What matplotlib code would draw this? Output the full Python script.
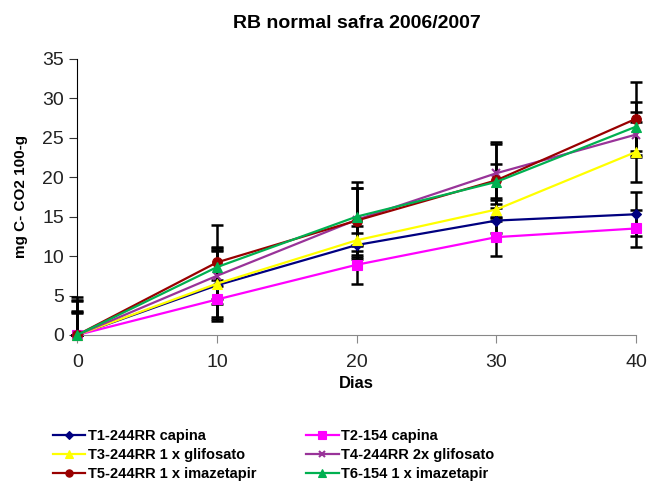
import matplotlib
matplotlib.use("Agg")
import matplotlib.pyplot as plt

plt.rcParams['font.family'] = ['Liberation Sans', 'DejaVu Sans']

# data
dias = [0, 10, 20, 30, 40]
labels = ["T1-244RR capina", "T2-154 capina",
          "T3-244RR 1 x glifosato", "T4-244RR 2x glifosato",
          "T5-244RR 1 x imazetapir", "T6-154 1 x imazetapir"]
t1 = [0, 6.3, 11.4, 14.5, 15.3]
t2 = [0, 4.5, 8.9, 12.4, 13.5]
t3 = [0, 6.5, 12.0, 15.9, 23.2]
t4 = [0, 7.5, 14.6, 20.5, 25.4]
t5 = [0, 9.2, 14.5, 19.6, 27.4]
t6 = [0, 8.6, 15.0, 19.4, 26.4]
e1 = [2.8, 4.5, 1.5, 1.6, 2.8]
e2 = [2.9, 2.5, 2.4, 2.4, 2.3]
e3 = [4.3, 4.2, 1.8, 1.5, 3.8]
e4 = [4.4, 3.6, 4.0, 3.9, 2.8]
e5 = [4.8, 4.7, 4.9, 4.6, 4.6]
e6 = [3.0, 2.4, 3.6, 2.3, 3.1]

series = [t1, t2, t3, t4, t5, t6]
errors = [e1, e2, e3, e4, e5, e6]
colors = ["#000080", "#ff00ff", "#ffff00", "#993399", "#990000", "#00b050"]
markers = ["D", "s", "^", "x", "o", "^"]
msizes = [5, 7, 7, 6, 7, 7]

fig = plt.figure(figsize=(6.49, 4.82), dpi=100)
ax = fig.add_axes([0.119, 0.305, 0.861, 0.573])

# error bars first (black), only upper part visible at day 0
for ys, es in zip(series, errors):
    lower = [0 if x == 0 else e for x, e in zip(dias, es)]
    eb = ax.errorbar(dias, ys, yerr=[lower, es], fmt="none", ecolor="black",
                     elinewidth=1.8, capsize=4, capthick=1.8, zorder=2)
    for art in eb.lines[1] + eb.lines[2]:
        art.set_clip_on(False)

handles = []
for ys, c, m, ms, lab in zip(series, colors, markers, msizes, labels):
    h, = ax.plot(dias, ys, color=c, marker=m, markersize=ms, linewidth=1.6,
                 markeredgewidth=1.5 if m == "x" else 0.8, label=lab,
                 clip_on=False, zorder=3)
    handles.append(h)

ax.set_xlim(0, 40)
ax.set_ylim(0, 35)
ax.set_xticks([0, 10, 20, 30, 40])
ax.set_yticks(range(0, 36, 5))
ax.tick_params(axis="both", labelsize=14, colors="#333333", length=6)
ax.tick_params(axis="x", colors="#888888", labelcolor="#222222", pad=8)
ax.tick_params(axis="y", labelcolor="#222222")
ax.spines["top"].set_visible(False)
ax.spines["right"].set_visible(False)
ax.spines["bottom"].set_color("#888888")
ax.spines["left"].set_color("black")

ax.set_title("RB normal safra 2006/2007", fontsize=14, fontweight="bold", pad=22)
ax.set_xlabel("Dias", fontsize=12, fontweight="bold", labelpad=3)
ax.set_ylabel("mg C- CO2 100-g", fontsize=11, fontweight="bold", labelpad=10)

# legend filled row by row: left column T1, T3, T5 ; right column T2, T4, T6
order = [0, 2, 4, 1, 3, 5]
fig.legend([handles[i] for i in order], [labels[i] for i in order],
           loc="lower left", bbox_to_anchor=(0.062, -0.025), ncol=2, frameon=False,
           columnspacing=3.4, handlelength=2.2, handletextpad=0.2, markerscale=0.75,
           labelspacing=0.35, prop={"weight": "bold", "size": 10.5})

fig.savefig("out.png", dpi=100)
